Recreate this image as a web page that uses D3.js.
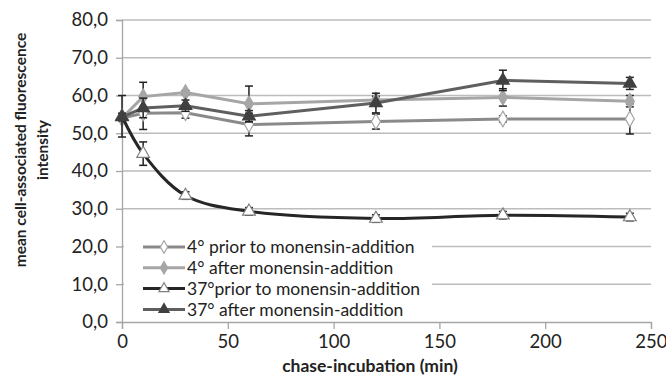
<!DOCTYPE html>
<html>
<head>
<meta charset="utf-8">
<script src="https://cdn.jsdelivr.net/npm/d3@7"></script>
<style>
  body { margin: 0; background: #fff; }
  svg { display: block; font-family: Lato, "Open Sans", sans-serif; }
</style>
</head>
<body>
<svg id="chart" width="666" height="378"></svg>
<script>
// chase times (min)
const times = [0, 10, 30, 60, 120, 180, 240];

// mean cell-associated fluorescence per series, with error bars
const prior4 = [54.0, 55.3, 55.4, 52.3, 53.1, 53.8, 53.8];
const prior4Err = [0, 4.3, 1.4, 3.0, 2.0, 0.8, 4.0];
const after4 = [54.0, 59.7, 60.8, 57.8, 58.8, 59.5, 58.5];
const after4Err = [0, 3.8, 0.5, 4.7, 1.0, 2.3, 1.5];
const prior37 = [54.5, 44.6, 33.5, 29.3, 27.4, 28.3, 27.8];
const prior37Err = [5.5, 3.1, 1.0, 1.0, 1.0, 1.0, 1.0];
const after37 = [54.3, 56.7, 57.3, 54.5, 58.0, 64.0, 63.2];
const after37Err = [1.0, 2.6, 1.5, 1.5, 2.6, 2.7, 1.6];

const seriesNames = ["4° prior to monensin-addition", "4° after monensin-addition",
                     "37°prior to monensin-addition", "37° after monensin-addition"];
const xTicks = [0, 50, 100, 150, 200, 250];
const yTicks = [0, 10, 20, 30, 40, 50, 60, 70, 80];

const series = [
  {name: seriesNames[0], vals: prior4, err: prior4Err, line: "#8a8a8a", fill: "#fff", stroke: "#a6a6a6", shape: d3.symbolDiamond, smooth: false},
  {name: seriesNames[1], vals: after4, err: after4Err, line: "#a6a6a6", fill: "#a6a6a6", stroke: "#a6a6a6", shape: d3.symbolDiamond, smooth: false},
  {name: seriesNames[2], vals: prior37, err: prior37Err, line: "#262626", fill: "#fff", stroke: "#7f7f7f", shape: d3.symbolTriangle, smooth: true},
  {name: seriesNames[3], vals: after37, err: after37Err, line: "#5f5f5f", fill: "#404040", stroke: "#404040", shape: d3.symbolTriangle, smooth: false}
];

const svg = d3.select("#chart");
const m = {left: 122, right: 15, top: 20, bottom: 56};
const w = 666 - m.left - m.right;
const h = 378 - m.top - m.bottom;

const x = d3.scaleLinear().domain([0, 250]).range([m.left, m.left + w]);
const y = d3.scaleLinear().domain([0, 80]).range([m.top + h, m.top]);
const fmt = v => d3.format(".1f")(v).replace(".", ",");

// grid lines
svg.append("g")
  .selectAll("line")
  .data(yTicks.slice(1))
  .enter()
  .append("line")
  .attr("x1", x(0)).attr("x2", x(250))
  .attr("y1", d => y(d)).attr("y2", d => y(d))
  .style("stroke", "#bcbcbc").style("stroke-width", 1.3);

// axes
const yAxis = svg.append("g")
  .attr("transform", `translate(${x(0)},0)`)
  .call(d3.axisLeft(y).tickValues(yTicks).tickSize(6).tickPadding(8).tickFormat(fmt));
const xAxis = svg.append("g")
  .attr("transform", `translate(0,${y(0)})`)
  .call(d3.axisBottom(x).tickValues(xTicks).tickSize(7).tickPadding(6));
[yAxis, xAxis].forEach(a => {
  a.select(".domain").style("stroke", "#a6a6a6").style("stroke-width", 1.3);
  a.selectAll(".tick line").style("stroke", "#a6a6a6").style("stroke-width", 1.3);
  a.selectAll("text").style("font-family", "Lato, sans-serif").style("font-size", "18.5px").style("fill", "#222");
});
// last x label sits at the right edge: keep it inside
xAxis.selectAll(".tick text").filter(d => d === 250)
  .attr("text-anchor", "end").attr("dx", "16");

// legend background covers the grid
svg.append("rect")
  .attr("x", x(0) + 2).attr("y", 236)
  .attr("width", 308).attr("height", 84)
  .style("fill", "#fff");

const sym = d3.symbol().size(70);

series.forEach(s => {
  const pts = times.map((t, i) => [t, s.vals[i], s.err[i]]);
  const line = d3.line()
    .x(d => x(d[0])).y(d => y(d[1]))
    .curve(s.smooth ? d3.curveCatmullRom : d3.curveLinear);

  svg.append("path")
    .datum(pts)
    .attr("d", line)
    .style("fill", "none")
    .style("stroke", s.line)
    .style("stroke-width", 3);

  // error bars
  const eb = svg.append("g").selectAll("g")
    .data(pts.filter(d => d[2] > 0))
    .enter().append("g");
  eb.append("line")
    .attr("x1", d => x(d[0])).attr("x2", d => x(d[0]))
    .attr("y1", d => y(d[1] - d[2])).attr("y2", d => y(d[1] + d[2]));
  eb.append("line")
    .attr("x1", d => x(d[0]) - 4).attr("x2", d => x(d[0]) + 4)
    .attr("y1", d => y(d[1] + d[2])).attr("y2", d => y(d[1] + d[2]));
  eb.append("line")
    .attr("x1", d => x(d[0]) - 4).attr("x2", d => x(d[0]) + 4)
    .attr("y1", d => y(d[1] - d[2])).attr("y2", d => y(d[1] - d[2]));
  eb.selectAll("line").style("stroke", "#222").style("stroke-width", 1.5);

  svg.append("g").selectAll("path")
    .data(pts)
    .enter().append("path")
    .attr("d", sym.type(s.shape)())
    .attr("transform", d => `translate(${x(d[0])},${y(d[1])})`)
    .style("fill", s.fill)
    .style("stroke", s.stroke)
    .style("stroke-width", 1.2);
});

// legend
const lg = svg.append("g")
  .selectAll(".item")
  .data(series)
  .enter()
  .append("g")
  .attr("class", "item")
  .attr("transform", (d, i) => `translate(143, ${247 + i * 20.8})`);
lg.append("line")
  .attr("x1", 0).attr("x2", 42)
  .style("stroke", d => d.line).style("stroke-width", 3);
lg.append("path")
  .attr("d", d => d3.symbol().size(45).type(d.shape)())
  .attr("transform", "translate(21,0)")
  .style("fill", d => d.fill)
  .style("stroke", d => d.stroke)
  .style("stroke-width", 1.2);
lg.append("text")
  .attr("x", 44).attr("y", 0).attr("dy", "0.35em")
  .style("font-size", "17.5px").style("fill", "#222")
  .text(d => d.name);

// axis titles
svg.append("text")
  .attr("x", 370).attr("y", 372)
  .attr("text-anchor", "middle")
  .style("font-size", "17.5px").style("font-weight", "bold").style("fill", "#222")
  .text("chase-incubation (min)");

const yt = svg.append("text")
  .attr("transform", "translate(26,150) rotate(-90)")
  .attr("text-anchor", "middle")
  .style("font-size", "15.5px").style("font-weight", "bold").style("fill", "#222");
yt.append("tspan").attr("x", 0).attr("dy", 0).text("mean cell-associated fluorescence");
yt.append("tspan").attr("x", 0).attr("dy", 22).text("intensity");
</script>
</body>
</html>
